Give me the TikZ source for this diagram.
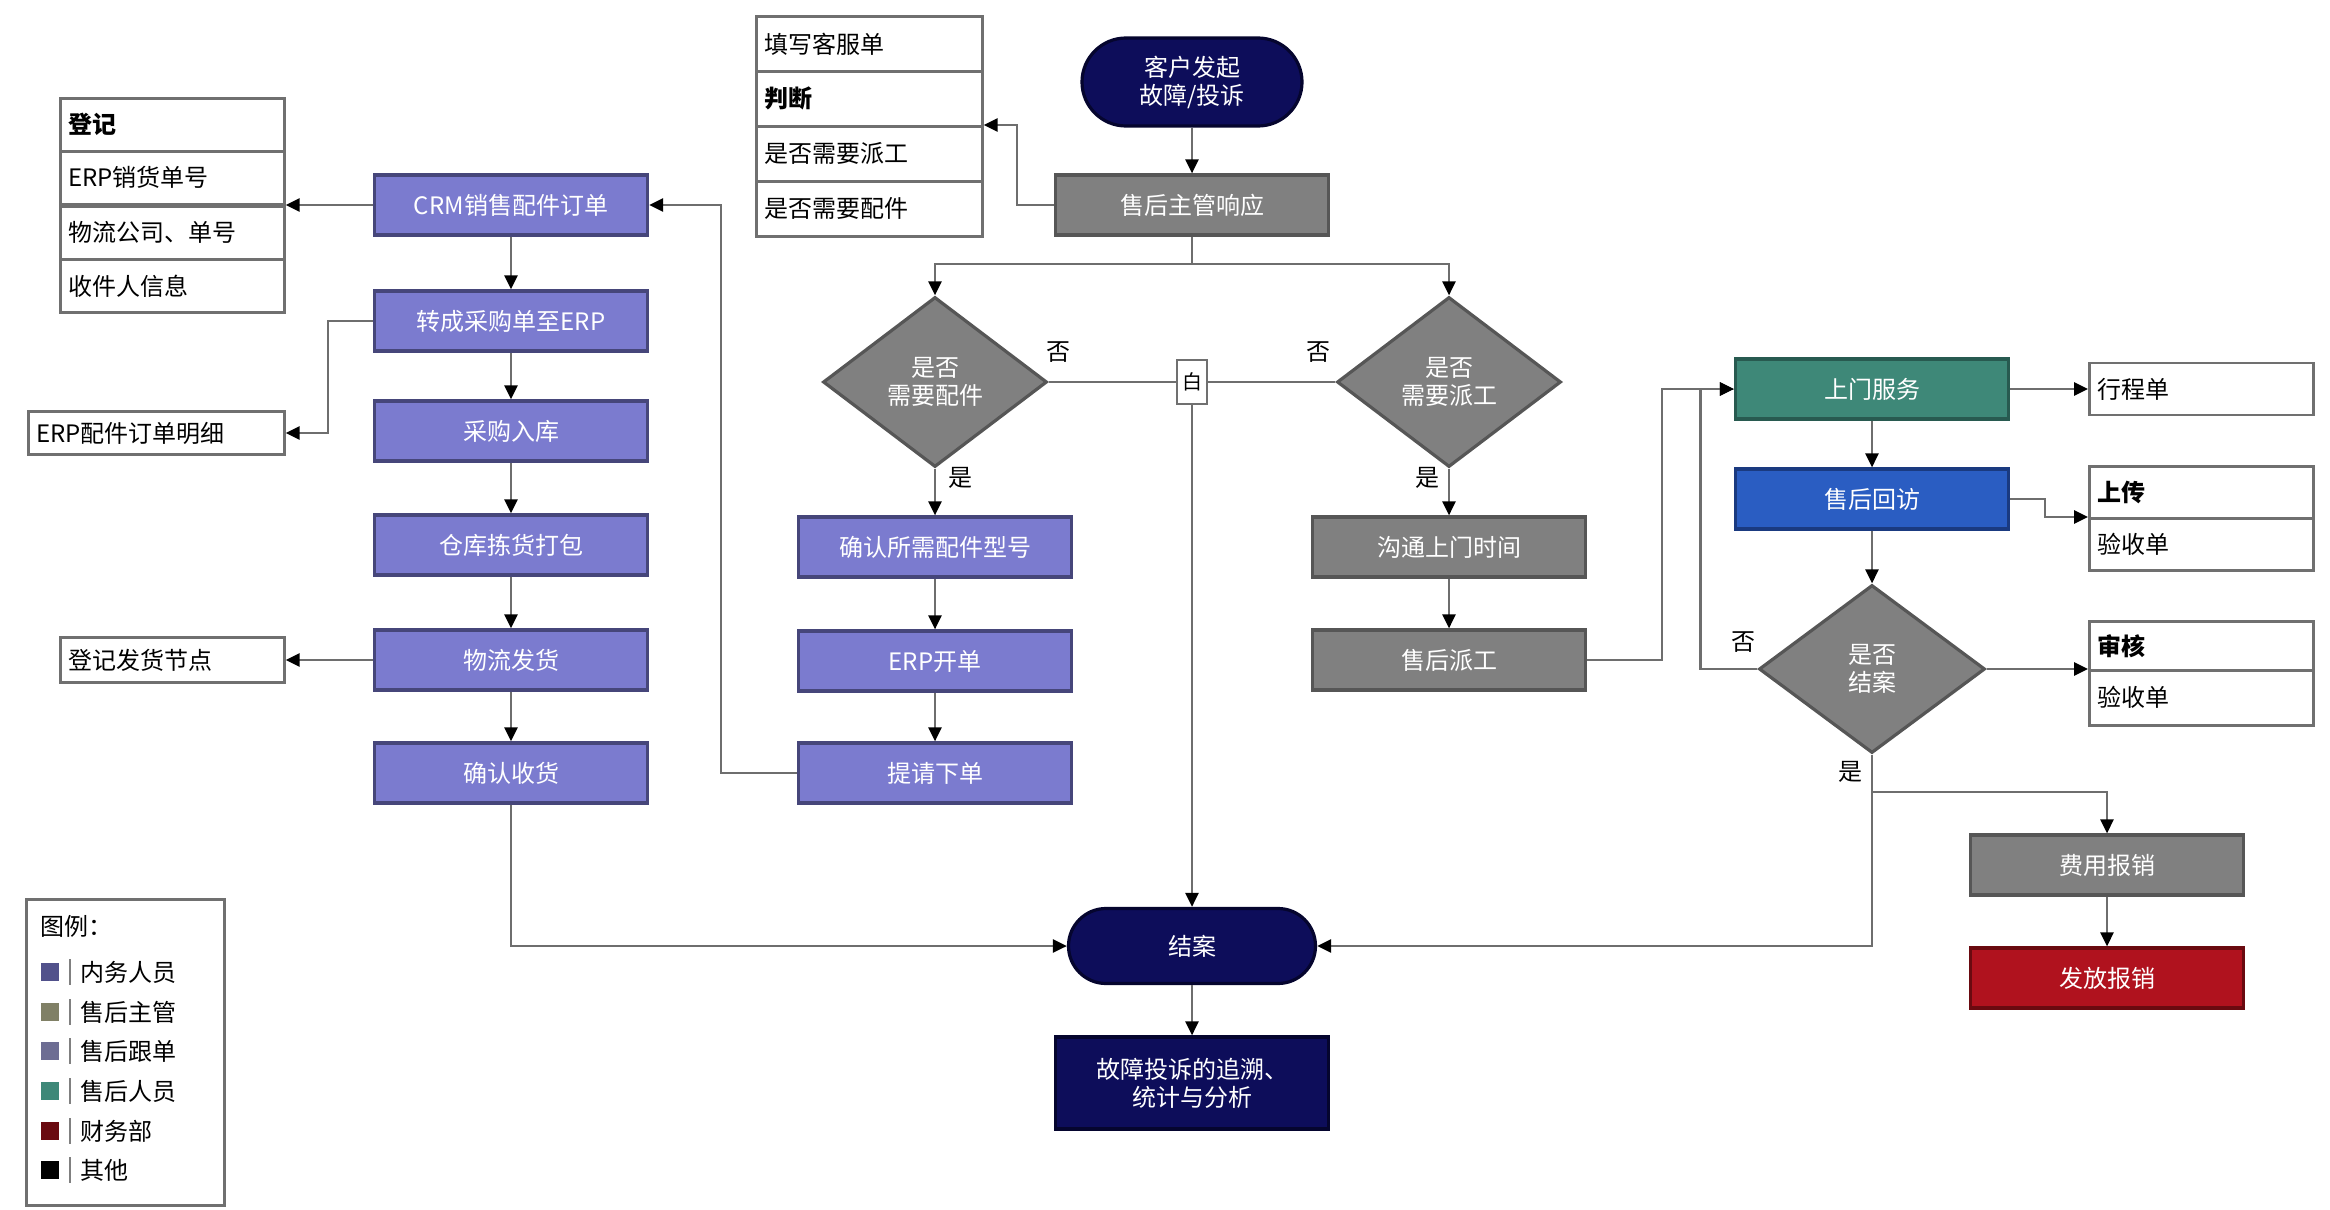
\documentclass[tikz,border=0pt]{standalone}
\usepackage{fontspec}
\newfontfamily\cjk{Noto Sans CJK SC}
\usetikzlibrary{shapes.geometric,shapes.misc,arrows.meta}
\definecolor{pur}{HTML}{7B7BCF}
\definecolor{purD}{HTML}{46467A}
\definecolor{gry}{HTML}{808080}
\definecolor{gryD}{HTML}{565656}
\definecolor{tea}{HTML}{3E8878}
\definecolor{teaD}{HTML}{285A50}
\definecolor{blu}{HTML}{2A5DC2}
\definecolor{bluD}{HTML}{1A3A80}
\definecolor{nav}{HTML}{0D0D5A}
\definecolor{navD}{HTML}{05052E}
\definecolor{rd}{HTML}{B0121E}
\definecolor{rdD}{HTML}{6A0A10}
\definecolor{lin}{HTML}{6E6E6E}
\definecolor{tbl}{HTML}{707070}
\begin{document}
\begin{tikzpicture}[x=0.5pt,y=-0.5pt,
  every node/.style={font=\cjk\fontsize{12}{14}\selectfont},
  box/.style={draw, line width=1.6pt, text=white, minimum width=136.5pt, minimum height=30pt, inner sep=2pt, align=center},
  pbox/.style={box, fill=pur, draw=purD},
  gbox/.style={box, fill=gry, draw=gryD},
  tbox/.style={box, fill=tea, draw=teaD},
  bbox/.style={box, fill=blu, draw=bluD},
  rbox/.style={box, fill=rd, draw=rdD},
  nbox/.style={box, fill=nav, draw=navD},
  pill/.style={rounded rectangle, draw=navD, fill=nav, line width=1.6pt, text=white, align=center, inner sep=2pt},
  dia/.style={diamond, draw=gryD, fill=gry, line width=1.6pt, text=white, align=center, inner sep=0pt, minimum width=112pt, minimum height=85pt},
  cell/.style={draw=tbl, line width=1.3pt, fill=white, text=black, anchor=north west, align=left, inner sep=4pt, text width=104pt, minimum height=26.5pt},
  lab/.style={text=black, inner sep=1pt},
  ln/.style={draw=lin, line width=1.3pt},
  arr/.style={draw=lin, line width=1.3pt, -{Triangle[length=7pt,width=6.5pt,black]}},
  sq/.style={draw=none, minimum width=9pt, minimum height=9pt, inner sep=0pt}
]
\useasboundingbox (0,0) rectangle (2330,1210);

% ---- top centre
\node[pill, minimum width=114pt, minimum height=44pt] (start) at (1192,82) {客户发起\\故障/投诉};
\node[gbox] (resp) at (1192,205) {售后主管响应};

% form table
\node[cell, text width=105pt, minimum height=27.5pt] (f1) at (755,15) {填写客服单};
\node[cell, text width=105pt, minimum height=27.5pt] (f2) at (755,70) {\bfseries 判断};
\node[cell, text width=105pt, minimum height=27.5pt] (f3) at (755,125) {是否需要派工};
\node[cell, text width=105pt, minimum height=27.5pt] (f4) at (755,180) {是否需要配件};

% diamonds
\node[dia] (dL) at (935,382) {是否\\需要配件};
\node[dia] (dR) at (1449,382) {是否\\需要派工};
\node[draw=tbl, fill=white, line width=1.2pt, text=black, minimum width=15pt, minimum height=22pt, inner sep=1pt, font=\cjk\fontsize{10}{12}\selectfont] (jn) at (1192,382) {白};
\node[lab] (noL) at (1058,352) {否};
\node[lab] (noR) at (1318,352) {否};
\node[lab] (yesL) at (960,478) {是};
\node[lab] (yesR) at (1427,478) {是};

% middle column
\node[pbox] (m1) at (935,547) {确认所需配件型号};
\node[pbox] (m2) at (935,661) {ERP开单};
\node[pbox] (m3) at (935,773) {提请下单};

% right grey column
\node[gbox] (r1) at (1449,547) {沟通上门时间};
\node[gbox] (r2) at (1449,660) {售后派工};

% left column
\node[pbox] (L1) at (511,205) {CRM销售配件订单};
\node[pbox] (L2) at (511,321) {转成采购单至ERP};
\node[pbox] (L3) at (511,431) {采购入库};
\node[pbox] (L4) at (511,545) {仓库拣货打包};
\node[pbox] (L5) at (511,660) {物流发货};
\node[pbox] (L6) at (511,773) {确认收货};

% left tables
\node[cell] (g1) at (59,97) {\bfseries 登记};
\node[cell] (g2) at (59,150) {ERP销货单号};
\node[cell] (g3) at (59,205) {物流公司、单号};
\node[cell] (g4) at (59,258) {收件人信息};
\node[cell, anchor=west, text width=120pt, minimum height=21.5pt] (erp) at (27,433) {ERP配件订单明细};
\node[cell, anchor=west, minimum height=22.5pt] (ship) at (59,660) {登记发货节点};

% bottom centre
\node[pill, minimum width=127.5pt, minimum height=37.5pt] (end) at (1192,946) {结案};
\node[nbox, minimum height=46pt, inner sep=1pt] (ana) at (1192,1083) {故障投诉的追溯、\\统计与分析};

% right part
\node[tbox] (svc) at (1872,389) {上门服务};
\node[bbox] (visit) at (1872,499) {售后回访};
\node[dia, minimum width=113pt, minimum height=84pt] (dC) at (1872,669) {是否\\结案};
\node[lab] (noC) at (1743,642) {否};
\node[lab] (yesC) at (1850,772) {是};
\node[cell, anchor=west, minimum height=26pt] (trip) at (2088,389) {行程单};
\node[cell, minimum height=26pt] (u1) at (2088,465) {\bfseries 上传};
\node[cell, minimum height=26pt] (u2) at (2088,517) {验收单};
\node[cell, minimum height=24.5pt] (a1) at (2088,620) {\bfseries 审核};
\node[cell, minimum height=27.5pt] (a2) at (2088,669) {验收单};
\node[gbox] (fee) at (2107,865) {费用报销};
\node[rbox] (pay) at (2107,978) {发放报销};

% legend
\node[draw=tbl, line width=1.3pt, fill=white, anchor=north west, minimum width=99pt, minimum height=153pt, inner sep=0pt] (leg) at (25,898) {};
\node[lab, anchor=west] (legt) at (38,926) {图例：};
\node[sq, fill=purD!80!pur] (s1) at (50,972) {};
\node[sq, fill=gry!80!olive] (s2) at (50,1012) {};
\node[sq, fill=gry!85!blue] (s3) at (50,1051) {};
\node[sq, fill=tea] (s4) at (50,1091) {};
\node[sq, fill=rdD] (s5) at (50,1131) {};
\node[sq, fill=black] (s6) at (50,1170) {};
\foreach \yy in {972,1012,1051,1091,1131,1170}{\draw[gray, line width=1pt] (70,\yy-13) -- (70,\yy+13);}
\node[lab, anchor=west] (t1) at (78,972) {内务人员};
\node[lab, anchor=west] (t2) at (78,1012) {售后主管};
\node[lab, anchor=west] (t3) at (78,1051) {售后跟单};
\node[lab, anchor=west] (t4) at (78,1091) {售后人员};
\node[lab, anchor=west] (t5) at (78,1131) {财务部};
\node[lab, anchor=west] (t6) at (78,1170) {其他};

% ---- connectors
\draw[arr] (start.south) -- (resp.north);
\draw[arr] (resp.west) -- ++(-37,0) |- (f3.north east);
\coordinate (split) at (1192,264);
\draw[ln] (resp.south) -- (split);
\draw[arr] (split) -| (dL.north);
\draw[arr] (split) -| (dR.north);
\draw[ln] (dL.east) -- (jn.west);
\draw[ln] (dR.west) -- (jn.east);
\draw[arr] (jn.south) -- (end.north);

\draw[arr] (dL.south) -- (m1.north);
\draw[arr] (m1.south) -- (m2.north);
\draw[arr] (m2.south) -- (m3.north);
\draw[arr] (m3.west) -- ++(-76,0) |- (L1.east);

\draw[arr] (dR.south) -- (r1.north);
\draw[arr] (r1.south) -- (r2.north);
\draw[arr] (r2.east) -- ++(75,0) |- (svc.west);

\draw[arr] (L1.south) -- (L2.north);
\draw[arr] (L2.south) -- (L3.north);
\draw[arr] (L3.south) -- (L4.north);
\draw[arr] (L4.south) -- (L5.north);
\draw[arr] (L5.south) -- (L6.north);
\draw[arr] (L1.west) -- (g3.north east);
\draw[arr] (L2.west) -- ++(-45,0) |- (erp.east);
\draw[arr] (L5.west) -- (ship.east);
\draw[arr] (L6.south) |- (end.west);
\draw[arr] (end.south) -- (ana.north);

\draw[arr] (svc.east) -- (trip.west);
\draw[arr] (svc.south) -- (visit.north);
\draw[arr] (visit.east) -- ++(35,0) |- (u2.north west);
\draw[arr] (visit.south) -- (dC.north);
\draw[arr] (dC.west) -- ++(-57,0) |- (svc.west);
\draw[arr] (dC.east) -- (a2.north west);
\coordinate (yb) at (1872,792);
\draw[ln] (dC.south) -- (yb);
\draw[arr] (yb) -| (fee.north);
\draw[arr] (yb) |- (end.east);
\draw[arr] (fee.south) -- (pay.north);
\end{tikzpicture}
\end{document}
